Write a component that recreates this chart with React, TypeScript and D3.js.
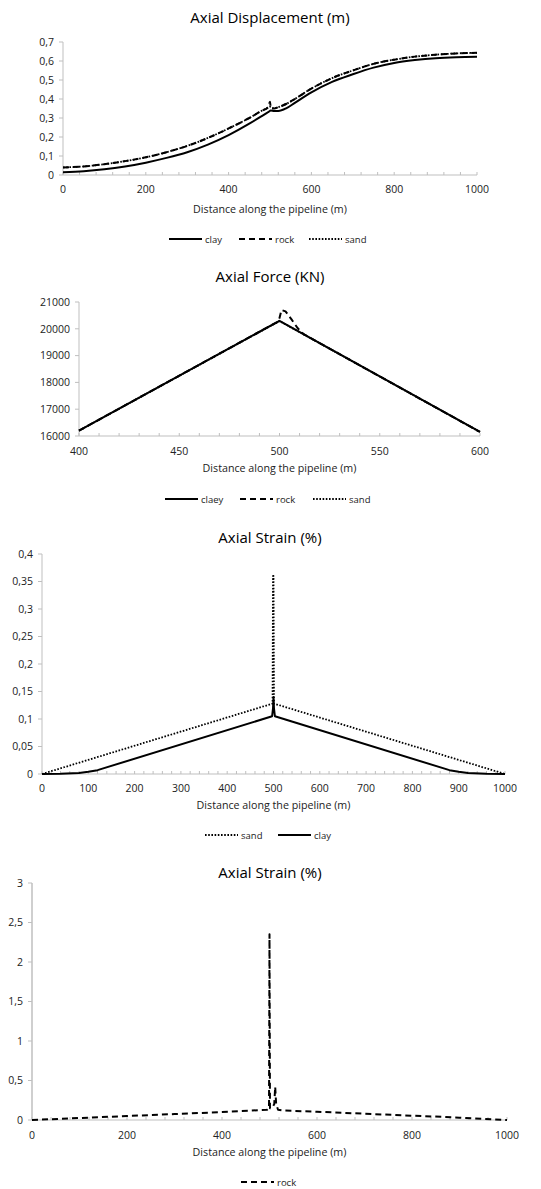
import React from "react";
import * as d3 from "d3";

// ---------- Data ----------
// Chart 1: Axial displacement (m)
const dispX = [0, 50, 100, 150, 200, 250, 300, 350, 400, 450, 480, 495, 500, 502, 510, 520, 540, 560, 600, 650, 700, 750, 800, 850, 900, 950, 1000];
const dispClay = [0.015, 0.02, 0.03, 0.045, 0.065, 0.09, 0.12, 0.16, 0.21, 0.27, 0.31, 0.33, 0.338, 0.34, 0.337, 0.337, 0.352, 0.38, 0.435, 0.49, 0.53, 0.565, 0.59, 0.605, 0.615, 0.62, 0.622];
const dispRock = [0.04, 0.045, 0.057, 0.073, 0.093, 0.12, 0.153, 0.195, 0.245, 0.3, 0.338, 0.355, 0.385, 0.35, 0.35, 0.357, 0.375, 0.4, 0.455, 0.51, 0.55, 0.585, 0.607, 0.623, 0.633, 0.64, 0.643];
const dispSand = [0.04, 0.045, 0.057, 0.073, 0.093, 0.12, 0.153, 0.195, 0.245, 0.3, 0.338, 0.355, 0.36, 0.356, 0.352, 0.357, 0.375, 0.4, 0.455, 0.51, 0.55, 0.585, 0.607, 0.623, 0.633, 0.64, 0.643];
const dispYTicks = [0, 0.1, 0.2, 0.3, 0.4, 0.5, 0.6, 0.7];
const dispXTicks = [0, 200, 400, 600, 800, 1000];

// Chart 2: Axial force (KN)
const forceClayX = [400, 500, 600];
const forceClay = [16200, 20300, 16150];
const forceSandX = [400, 500, 600];
const forceSand = [16200, 20290, 16150];
const forceRockX = [400, 499, 500, 501, 503, 506, 509, 512, 600];
const forceRock = [16200, 20260, 20400, 20700, 20650, 20350, 20030, 19800, 16150];
const forceYTicks = [16000, 17000, 18000, 19000, 20000, 21000];
const forceXTicks = [400, 450, 500, 550, 600];

// Chart 3: Axial strain (%) sand / clay
const strainSandX = [0, 498, 499, 500, 501, 1000];
const strainSand = [0, 0.128, 0.36, 0.36, 0.128, 0];
const strainClayX = [0, 40, 80, 100, 120, 497, 499, 500, 501, 503, 880, 900, 920, 960, 1000];
const strainClay = [0, 0.0005, 0.002, 0.004, 0.007, 0.105, 0.12, 0.14, 0.12, 0.105, 0.007, 0.004, 0.002, 0.0005, 0];
const strainYTicks = [0, 0.05, 0.1, 0.15, 0.2, 0.25, 0.3, 0.35, 0.4];
const strainXTicks = [0, 100, 200, 300, 400, 500, 600, 700, 800, 900, 1000];

// Chart 4: Axial strain (%) rock
const rockStrainX = [0, 100, 200, 300, 400, 495, 499, 500, 501, 505, 510, 512, 514, 518, 530, 600, 700, 800, 900, 1000];
const rockStrain = [0, 0.025, 0.05, 0.075, 0.1, 0.13, 0.15, 2.35, 0.15, 0.15, 0.2, 0.42, 0.2, 0.13, 0.12, 0.105, 0.08, 0.055, 0.03, 0];
const rockYTicks = [0, 0.5, 1, 1.5, 2, 2.5, 3];
const rockXTicks = [0, 200, 400, 600, 800, 1000];

// ---------- Styles ----------
const FONT = "'Open Sans', 'Noto Sans', sans-serif";
const AXIS = "#bfbfbf";
const styles: Record<string, { dash: string; width: number }> = {
  clay: { dash: "", width: 2 },
  claey: { dash: "", width: 2 },
  rock: { dash: "6,4", width: 2 },
  sand: { dash: "1.6,1.6", width: 1.8 },
};

const fmt = (v: number) => String(v).replace(".", ",");

type Series = { name: string; xs: number[]; ys: number[] };
type LegendItem = { name: string; x0: number };

type ChartProps = {
  title: string;
  titleY: number;
  left: number;
  right: number;
  top: number;
  bottom: number;
  xDomain: [number, number];
  yDomain: [number, number];
  xTicks: number[];
  yTicks: number[];
  minor: number;
  series: Series[];
  tickLabelY: number;
  xTitleY: number;
  legendY: number;
  legend: LegendItem[];
  yAxisWidth?: number;
  smooth?: boolean;
};

function Chart(p: ChartProps) {
  const x = d3.scaleLinear().domain(p.xDomain).range([p.left, p.right]);
  const y = d3.scaleLinear().domain(p.yDomain).range([p.bottom, p.top]);
  const line = d3
    .line<[number, number]>()
    .x((d) => x(d[0]))
    .y((d) => y(d[1]))
    .curve(p.smooth ? d3.curveMonotoneX : d3.curveLinear);
  const minorTicks = d3.range(p.xDomain[0], p.xDomain[1] + 1e-9, p.minor);
  const cx = (p.left + p.right) / 2;
  return (
    <g>
      <text x={270} y={p.titleY} textAnchor="middle" fontSize={15} fontFamily={FONT} fill="#000">
        {p.title}
      </text>
      {/* axes */}
      <line x1={p.left} x2={p.left} y1={p.top} y2={p.bottom} stroke={AXIS} strokeWidth={p.yAxisWidth ?? 1} />
      <line x1={p.left} x2={p.right} y1={p.bottom} y2={p.bottom} stroke={AXIS} strokeWidth={1} />
      {p.yTicks.map((t) => (
        <g key={"y" + t}>
          <line x1={p.left - 4} x2={p.left} y1={y(t)} y2={y(t)} stroke={AXIS} />
          <text x={p.left - 9} y={y(t) + 3.8} textAnchor="end" fontSize={10.5} fontFamily={FONT} fill="#222">
            {fmt(t)}
          </text>
        </g>
      ))}
      {minorTicks.map((t) => (
        <line key={"m" + t} x1={x(t)} x2={x(t)} y1={p.bottom - 3} y2={p.bottom} stroke={AXIS} />
      ))}
      {p.xTicks.map((t) => (
        <text key={"x" + t} x={x(t)} y={p.tickLabelY} textAnchor="middle" fontSize={10.5} fontFamily={FONT} fill="#222">
          {fmt(t)}
        </text>
      ))}
      <text x={cx} y={p.xTitleY} textAnchor="middle" fontSize={10.7} fontFamily={FONT} fill="#222">
        Distance along the pipeline (m)
      </text>
      {/* series */}
      {p.series.map((s) => {
        const st = styles[s.name];
        const pts = s.xs.map((xv, i) => [xv, s.ys[i]] as [number, number]);
        return (
          <path
            key={s.name}
            d={line(pts) || ""}
            fill="none"
            stroke="#000"
            strokeWidth={st.width}
            strokeDasharray={st.dash || undefined}
            strokeLinejoin="round"
          />
        );
      })}
      {/* legend */}
      {p.legend.map((l) => {
        const st = styles[l.name];
        return (
          <g key={"l" + l.name}>
            <line
              x1={l.x0}
              x2={l.x0 + 33}
              y1={p.legendY}
              y2={p.legendY}
              stroke="#000"
              strokeWidth={st.width}
              strokeDasharray={st.dash || undefined}
            />
            <text x={l.x0 + 36} y={p.legendY + 3.5} fontSize={9.5} fontFamily={FONT} fill="#222">
              {l.name}
            </text>
          </g>
        );
      })}
    </g>
  );
}

export default function App() {
  return (
    <svg
      width={541}
      height={1189}
      style={{ position: "absolute", left: 0, top: 0, background: "#fff" }}
    >
      <rect width={541} height={1189} fill="#fff" />
      <Chart
        title="Axial Displacement (m)"
        titleY={23}
        left={63}
        right={477}
        top={42}
        bottom={175}
        xDomain={[0, 1000]}
        yDomain={[0, 0.7]}
        xTicks={dispXTicks}
        yTicks={dispYTicks}
        minor={40}
        smooth
        series={[
          { name: "sand", xs: dispX, ys: dispSand },
          { name: "rock", xs: dispX, ys: dispRock },
          { name: "clay", xs: dispX, ys: dispClay },
        ]}
        tickLabelY={193}
        xTitleY={213}
        legendY={239}
        legend={[
          { name: "clay", x0: 169 },
          { name: "rock", x0: 239 },
          { name: "sand", x0: 309 },
        ]}
      />
      <Chart
        title="Axial Force (KN)"
        titleY={282}
        left={79}
        right={480}
        top={302}
        bottom={436}
        xDomain={[400, 600]}
        yDomain={[16000, 21000]}
        xTicks={forceXTicks}
        yTicks={forceYTicks}
        minor={10}
        series={[
          { name: "sand", xs: forceSandX, ys: forceSand },
          { name: "rock", xs: forceRockX, ys: forceRock },
          { name: "claey", xs: forceClayX, ys: forceClay },
        ]}
        tickLabelY={455}
        xTitleY={472}
        legendY={499}
        legend={[
          { name: "claey", x0: 165 },
          { name: "rock", x0: 240 },
          { name: "sand", x0: 313 },
        ]}
      />
      <Chart
        title="Axial Strain (%)"
        titleY={543}
        left={42}
        right={505}
        top={554}
        bottom={774}
        xDomain={[0, 1000]}
        yDomain={[0, 0.4]}
        xTicks={strainXTicks}
        yTicks={strainYTicks}
        minor={20}
        series={[
          { name: "sand", xs: strainSandX, ys: strainSand },
          { name: "clay", xs: strainClayX, ys: strainClay },
        ]}
        tickLabelY={792}
        xTitleY={809}
        legendY={835}
        legend={[
          { name: "sand", x0: 205 },
          { name: "clay", x0: 278 },
        ]}
      />
      <Chart
        title="Axial Strain (%)"
        titleY={878}
        left={32}
        right={507}
        top={883}
        bottom={1120}
        xDomain={[0, 1000]}
        yDomain={[0, 3]}
        xTicks={rockXTicks}
        yTicks={rockYTicks}
        minor={40}
        yAxisWidth={1.5}
        series={[{ name: "rock", xs: rockStrainX, ys: rockStrain }]}
        tickLabelY={1139}
        xTitleY={1156}
        legendY={1182}
        legend={[{ name: "rock", x0: 241 }]}
      />
    </svg>
  );
}
